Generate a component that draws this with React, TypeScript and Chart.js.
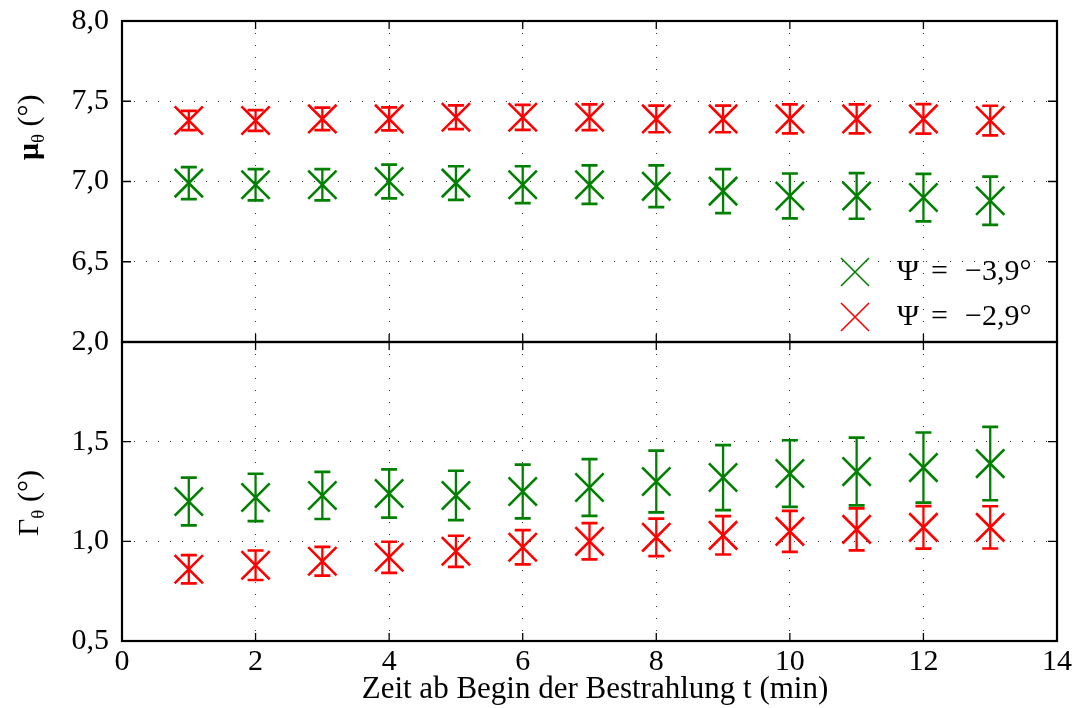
import React, { useEffect, useRef } from 'react';
import { Chart, registerables } from 'chart.js';

Chart.register(...registerables);

// ---------------- data ----------------
const times = [1, 2, 3, 4, 5, 6, 7, 8, 9, 10, 11, 12, 13];

const muGreen = [6.99, 6.98, 6.98, 7.0, 6.99, 6.98, 6.98, 6.97, 6.94, 6.91, 6.91, 6.9, 6.88];
const muGreenErr = [0.1, 0.097, 0.097, 0.105, 0.105, 0.115, 0.12, 0.13, 0.137, 0.14, 0.142, 0.148, 0.15];
const muRed = [7.38, 7.38, 7.39, 7.39, 7.4, 7.4, 7.4, 7.39, 7.39, 7.39, 7.39, 7.39, 7.38];
const muRedErr = [0.06, 0.065, 0.07, 0.072, 0.074, 0.078, 0.08, 0.083, 0.083, 0.09, 0.09, 0.092, 0.092];

const gammaGreen = [1.2, 1.22, 1.23, 1.24, 1.23, 1.25, 1.27, 1.3, 1.32, 1.34, 1.35, 1.37, 1.39];
const gammaGreenErr = [0.12, 0.119, 0.118, 0.121, 0.124, 0.135, 0.142, 0.155, 0.163, 0.167, 0.17, 0.176, 0.184];
const gammaRed = [0.86, 0.88, 0.9, 0.92, 0.95, 0.97, 1.0, 1.02, 1.03, 1.05, 1.06, 1.07, 1.07];
const gammaRedErr = [0.071, 0.074, 0.072, 0.078, 0.078, 0.086, 0.091, 0.094, 0.096, 0.103, 0.105, 0.107, 0.106];

const xTicks = [0, 2, 4, 6, 8, 10, 12, 14];
const muTicks = [6.5, 7.0, 7.5, 8.0];
const gammaTicks = [0.5, 1.0, 1.5, 2.0];

const seriesLabels = ['Ψ = −3,9°', 'Ψ = −2,9°'];
const xTitle = 'Zeit ab Begin der Bestrahlung t (min)';

const GREEN = '#008000';
const RED = '#ff0000';
const FONT = '"Liberation Serif", "Times New Roman", serif';
const FS = 30;

const fmt = (v: number) => v.toFixed(1).replace('.', ',');

type Series = { label: string; values: number[]; errors: number[]; color: string };

type PanelCfg = {
  series: Series[];
  yMin: number;
  yMax: number;
  yTicks: number[];
  showXLabels: boolean;
  padding: { left: number; top: number; right: number; bottom: number };
  xAxisHeight: number;
  extraDraw: (chart: any) => void;
};

function drawRotTitle(ctx: CanvasRenderingContext2D, baseX: number, startY: number, parts: { t: string; bold?: boolean; sub?: boolean }[]) {
  ctx.save();
  ctx.translate(baseX, startY);
  ctx.rotate(-Math.PI / 2);
  ctx.fillStyle = '#000';
  ctx.textBaseline = 'alphabetic';
  ctx.textAlign = 'left';
  let u = 0;
  for (const p of parts) {
    const size = p.sub ? 19 : FS;
    ctx.font = `${p.bold ? 'bold ' : ''}${size}px ${FONT}`;
    ctx.fillText(p.t, u, p.sub ? 6 : 0);
    u += ctx.measureText(p.t).width;
  }
  ctx.restore();
}

function makeChart(canvas: HTMLCanvasElement, cfg: PanelCfg) {
  const datasets = cfg.series.map((s) => ({
    type: 'scatter' as const,
    label: s.label,
    data: times.map((t, i) => ({ x: t, y: s.values[i] })),
    showLine: false,
    pointStyle: 'crossRot',
    pointRadius: 20,
    pointHoverRadius: 20,
    pointBorderWidth: 2.6,
    pointBorderColor: s.color,
    pointBackgroundColor: 'rgba(0,0,0,0)',
    borderColor: s.color,
    backgroundColor: 'rgba(0,0,0,0)',
  }));

  const errorPlugin = {
    id: 'errs',
    afterDatasetDraw(chart: any, args: any) {
      const s = cfg.series[args.index];
      if (!s) return;
      const ctx = chart.ctx;
      const ys = chart.scales.y;
      const area = chart.chartArea;
      ctx.save();
      ctx.beginPath();
      ctx.rect(area.left, area.top, area.right - area.left, area.bottom - area.top);
      ctx.clip();
      ctx.strokeStyle = s.color;
      ctx.lineCap = 'butt';
      args.meta.data.forEach((pt: any, i: number) => {
        const x = pt.x;
        const y1 = ys.getPixelForValue(s.values[i] + s.errors[i]);
        const y2 = ys.getPixelForValue(s.values[i] - s.errors[i]);
        ctx.lineWidth = 2.3;
        ctx.beginPath();
        ctx.moveTo(x, y1);
        ctx.lineTo(x, y2);
        ctx.stroke();
        ctx.lineWidth = 2.7;
        ctx.beginPath();
        ctx.moveTo(x - 8, y1);
        ctx.lineTo(x + 8, y1);
        ctx.moveTo(x - 8, y2);
        ctx.lineTo(x + 8, y2);
        ctx.stroke();
      });
      ctx.restore();
    },
  };

  const framePlugin = {
    id: 'frame',
    afterDraw(chart: any) {
      const ctx = chart.ctx;
      const a = chart.chartArea;
      const xs = chart.scales.x;
      const ys = chart.scales.y;
      ctx.save();
      ctx.strokeStyle = '#000';
      ctx.lineWidth = 1.3;
      ctx.beginPath();
      xTicks.forEach((v) => {
        const px = xs.getPixelForValue(v);
        ctx.moveTo(px, a.bottom);
        ctx.lineTo(px, a.bottom - 8);
        ctx.moveTo(px, a.top);
        ctx.lineTo(px, a.top + 8);
      });
      cfg.yTicks.forEach((v) => {
        const py = ys.getPixelForValue(v);
        ctx.moveTo(a.left, py);
        ctx.lineTo(a.left + 9, py);
        ctx.moveTo(a.right, py);
        ctx.lineTo(a.right - 9, py);
      });
      ctx.stroke();
      ctx.lineWidth = 2.2;
      ctx.strokeRect(a.left, a.top, a.right - a.left, a.bottom - a.top);
      ctx.restore();
      cfg.extraDraw(chart);
    },
  };

  return new Chart(canvas, {
    type: 'scatter',
    data: { datasets },
    plugins: [errorPlugin, framePlugin],
    options: {
      animation: false,
      responsive: false,
      events: [],
      devicePixelRatio: 1,
      layout: { padding: cfg.padding, autoPadding: false },
      plugins: { legend: { display: false }, tooltip: { enabled: false } },
      scales: {
        x: {
          type: 'linear',
          min: 0,
          max: 14,
          afterBuildTicks: (scale: any) => {
            scale.ticks = xTicks.map((v) => ({ value: v }));
          },
          afterFit: (scale: any) => {
            scale.height = cfg.xAxisHeight;
            scale.paddingLeft = 0;
            scale.paddingRight = 0;
            scale.paddingTop = 0;
            scale.paddingBottom = 0;
          },
          grid: { color: '#333', lineWidth: 1, drawTicks: false },
          border: { display: false, dash: [1, 11] },
          ticks: {
            display: cfg.showXLabels,
            color: '#000',
            padding: 3,
            font: { family: FONT, size: FS },
            maxRotation: 0,
            autoSkip: false,
            callback: (v: any) => String(v),
          },
        },
        y: {
          type: 'linear',
          min: cfg.yMin,
          max: cfg.yMax,
          afterBuildTicks: (scale: any) => {
            scale.ticks = cfg.yTicks.map((v) => ({ value: v }));
          },
          afterFit: (scale: any) => {
            scale.width = 122 - cfg.padding.left;
            scale.paddingLeft = 0;
            scale.paddingRight = 0;
            scale.paddingTop = 0;
            scale.paddingBottom = 0;
          },
          grid: { color: '#333', lineWidth: 1, drawTicks: false },
          border: { display: false, dash: [1, 11] },
          ticks: {
            color: '#000',
            padding: 13,
            font: { family: FONT, size: FS },
            autoSkip: false,
            callback: (v: any) => fmt(v),
          },
        },
      },
    } as any,
  });
}

export default function App() {
  const topRef = useRef<HTMLCanvasElement>(null);
  const botRef = useRef<HTMLCanvasElement>(null);

  useEffect(() => {
    const TOP_H = 350;
    const BOT_TOP = 318;

    const top = makeChart(topRef.current!, {
      series: [
        { label: seriesLabels[0], values: muGreen, errors: muGreenErr, color: GREEN },
        { label: seriesLabels[1], values: muRed, errors: muRedErr, color: RED },
      ],
      yMin: 6.0,
      yMax: 8.0,
      yTicks: muTicks,
      showXLabels: false,
      padding: { left: 0, top: 21, right: 17, bottom: TOP_H - 342 },
      xAxisHeight: 0,
      extraDraw: (chart: any) => {
        const ctx = chart.ctx;
        drawRotTitle(ctx, 38, 160, [
          { t: 'μ', bold: true },
          { t: 'θ', sub: true },
          { t: ' (°)' },
        ]);
        // legend
        const rows = [
          { y: 272, color: GREEN, label: seriesLabels[0] },
          { y: 317, color: RED, label: seriesLabels[1] },
        ];
        ctx.save();
        rows.forEach((r) => {
          ctx.strokeStyle = r.color;
          ctx.lineWidth = 1.6;
          ctx.beginPath();
          ctx.moveTo(841, r.y - 14);
          ctx.lineTo(869, r.y + 14);
          ctx.moveTo(869, r.y - 14);
          ctx.lineTo(841, r.y + 14);
          ctx.stroke();
          ctx.fillStyle = '#000';
          ctx.textBaseline = 'middle';
          ctx.textAlign = 'left';
          ctx.font = `${FS}px ${FONT}`;
          const [psi, rest] = r.label.split(' = ');
          ctx.fillText(psi, 897, r.y);
          ctx.fillText('=', 931, r.y);
          ctx.fillText(rest, 965, r.y);
        });
        ctx.restore();
      },
    });

    const bot = makeChart(botRef.current!, {
      series: [
        { label: seriesLabels[0], values: gammaGreen, errors: gammaGreenErr, color: GREEN },
        { label: seriesLabels[1], values: gammaRed, errors: gammaRedErr, color: RED },
      ],
      yMin: 0.5,
      yMax: 2.0,
      yTicks: gammaTicks,
      showXLabels: true,
      padding: { left: 0, top: 342 - BOT_TOP, right: 17, bottom: 0 },
      xAxisHeight: 708 - 641,
      extraDraw: (chart: any) => {
        const ctx = chart.ctx;
        drawRotTitle(ctx, 38, 536 - BOT_TOP, [
          { t: 'Γ' },
          { t: 'θ', sub: true },
          { t: ' (°)' },
        ]);
        ctx.save();
        ctx.fillStyle = '#000';
        ctx.font = `31px ${FONT}`;
        ctx.textAlign = 'center';
        ctx.textBaseline = 'middle';
        ctx.fillText(xTitle, 595, 690 - BOT_TOP);
        ctx.restore();
      },
    });

    return () => {
      top.destroy();
      bot.destroy();
    };
  }, []);

  return (
    <div style={{ position: 'absolute', left: 0, top: 0, width: 1074, height: 708, background: '#fff' }}>
      <canvas
        ref={topRef}
        width={1074}
        height={350}
        style={{ position: 'absolute', left: 0, top: 0, width: 1074, height: 350 }}
      />
      <canvas
        ref={botRef}
        width={1074}
        height={390}
        style={{ position: 'absolute', left: 0, top: 318, width: 1074, height: 390 }}
      />
    </div>
  );
}
